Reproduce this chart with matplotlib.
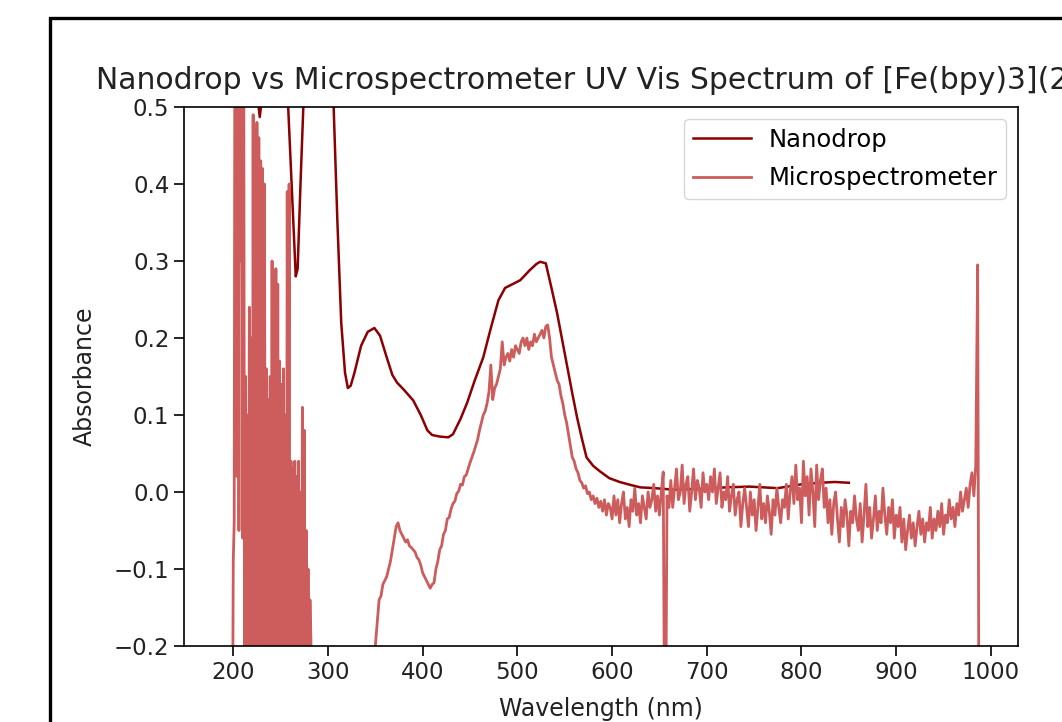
import numpy as np
import matplotlib
matplotlib.use("Agg")
import matplotlib.pyplot as plt
from matplotlib.patches import Rectangle

# Nanodrop spectrum (smooth, 190-850 nm)
nano_nm = [190, 200, 210, 220, 225, 228, 231, 240, 250, 256, 258, 262, 266, 268, 271, 274,
           280, 290, 300, 306, 310, 314, 318, 321, 324, 328, 335, 342, 349, 355, 362, 368,
           373, 380, 390, 398, 405, 410, 418, 427, 432, 440, 447, 455, 464, 472, 480, 487,
           495, 503, 513, 520, 524, 530, 536, 542, 552, 558, 563, 568, 573, 580, 587, 597,
           608, 620, 630, 645, 665, 690, 720, 745, 775, 800, 820, 835, 850]
nano_abs = [1.2, 1.5, 0.9, 0.6, 0.52, 0.487, 0.52, 0.8, 0.7, 0.53, 0.5, 0.39, 0.28, 0.29, 0.40, 0.5,
            0.8, 1.0, 0.7, 0.5, 0.35, 0.22, 0.155, 0.135, 0.138, 0.155, 0.19, 0.208, 0.213, 0.203, 0.175, 0.152,
            0.142, 0.133, 0.119, 0.1, 0.08, 0.074, 0.072, 0.071, 0.075, 0.095, 0.116, 0.145, 0.175, 0.213, 0.249, 0.265,
            0.270, 0.275, 0.288, 0.296, 0.299, 0.297, 0.265, 0.232, 0.167, 0.128, 0.097, 0.07, 0.045, 0.034, 0.027, 0.018,
            0.013, 0.009, 0.006, 0.005, 0.003, 0.004, 0.006, 0.007, 0.005, 0.01, 0.012, 0.013, 0.012]

# Microspectrometer spectrum, in pieces (start nm, step nm, values)
micro_uv = [-0.5, -0.6, -0.45, -0.7, -0.5, -0.4, -0.55, -0.6, -0.5, -0.45, -0.6, -0.4,
            -0.09, -0.04, 0.9, 0.6, 0.02, 0.85, -0.05, 0.95, 0.3, 0.8, -0.06, 0.7,
            -0.35, 0.15, -0.45, 0.1, -0.3, 0.24, -0.5, 0.2,
            -0.4, 0.49, -0.3, 0.47, -0.45, 0.48, -0.2, 0.46,
            -0.5, 0.43, -0.3, 0.42, -0.45, 0.4, -0.35,
            0.16, -0.4, 0.12, -0.5, 0.15,
            -0.3, 0.30, -0.45, 0.28, -0.35, 0.29, -0.5, 0.27,
            -0.4, 0.17, -0.3, 0.14, -0.5, 0.16, -0.35, 0.1,
            -0.45, 0.39, -0.3, 0.40, -0.5,
            0.04, -0.4, 0.03, -0.35, 0.04, -0.5, 0.02, -0.3, 0.04, -0.45, 0.0, -0.35,
            0.11, -0.3, 0.08, -0.4, -0.05, -0.3, -0.1, -0.25, -0.14, -0.19, -0.3]

micro_low = [-0.3, -0.35, -0.4, -0.42, -0.45, -0.47, -0.48, -0.5, -0.5, -0.49, -0.48,
             -0.47, -0.46, -0.45, -0.44, -0.42, -0.41, -0.4, -0.38, -0.37, -0.36, -0.34,
             -0.33, -0.32, -0.3, -0.29, -0.28, -0.27, -0.26, -0.25, -0.24, -0.22, -0.21]

micro_vis = [-0.2, -0.17, -0.14, -0.135, -0.12, -0.115,
             -0.11, -0.10, -0.09, -0.075, -0.06, -0.045, -0.04,
             -0.05, -0.055, -0.06, -0.065, -0.062, -0.07, -0.072, -0.075, -0.078, -0.085, -0.088,
             -0.095, -0.105, -0.11, -0.115, -0.12, -0.125, -0.12, -0.118,
             -0.1, -0.09, -0.075, -0.07, -0.055, -0.05, -0.035, -0.033, -0.022,
             -0.015, -0.012, -0.002, 0.001, 0.01, 0.009, 0.02, 0.022, 0.03, 0.038, 0.045, 0.052, 0.06, 0.068, 0.08,
             0.09, 0.1, 0.105, 0.115, 0.13, 0.165, 0.12, 0.135, 0.14, 0.15,
             0.16, 0.195, 0.165, 0.175, 0.18, 0.17, 0.185, 0.175, 0.19, 0.185,
             0.18, 0.195, 0.2, 0.19, 0.2, 0.185, 0.195, 0.19, 0.205, 0.195,
             0.2, 0.205, 0.21, 0.2, 0.215, 0.217, 0.2, 0.175,
             0.165, 0.155, 0.145, 0.14, 0.125, 0.115, 0.1, 0.09, 0.075, 0.06, 0.045, 0.04,
             0.03, 0.025, 0.015, 0.012, 0.005, 0.008, -0.002, 0.0, -0.01, -0.005,
             -0.015, -0.008, -0.02, -0.012, -0.025, -0.01, -0.03, -0.015, -0.02, -0.035]

micro_red = [-0.005, -0.03, -0.01, -0.04, -0.015, 0.0, -0.035, -0.02, -0.045, -0.01,
             -0.025, 0.005, -0.03, -0.015, -0.04, -0.005, -0.02, -0.035, 0.0, -0.02,
             -0.01, 0.01, -0.025, -0.005, -0.03, 0.0, 0.026, -0.45, -0.005, -0.02,
             0.015, -0.02, 0.005, 0.03, -0.01, 0.0, 0.035, -0.015, 0.01, 0.02,
             -0.025, 0.0, 0.03, -0.01, 0.015, 0.005, -0.02, 0.025, 0.0, 0.01,
             -0.01, 0.02, 0.0, 0.03, -0.015, 0.005, 0.025, -0.02, 0.0, -0.01,
             0.02, -0.025, -0.005, 0.01, -0.03, -0.01, 0.0, -0.045, -0.015, 0.005,
             -0.02, -0.045, 0.0, -0.03, -0.01, -0.05, -0.02, 0.01, -0.035, -0.015,
             -0.04, -0.005, -0.025, -0.055, -0.01, -0.03, 0.005, -0.02, -0.04, -0.01,
             -0.02, 0.01, -0.035, 0.0, 0.02, -0.015, 0.035, -0.01, 0.005, -0.04,
             0.04, -0.005, 0.02, -0.03, 0.03, 0.0, -0.045, 0.035, -0.01, 0.015,
             0.03, -0.02, 0.005, -0.04, -0.01, -0.055, -0.015, 0.0, -0.035, -0.065,
             -0.02, -0.045, -0.01, -0.03, -0.07, -0.025, -0.04, -0.005, -0.035, -0.05,
             -0.015, -0.065, -0.03, 0.01, -0.045, -0.02, -0.06, -0.035, -0.005, -0.05,
             -0.025, -0.04, 0.005, -0.03, -0.055, -0.02, -0.04, -0.01, -0.06, -0.03,
             -0.045, -0.02, -0.065, -0.035, -0.075, -0.05, -0.03, -0.06, -0.04, -0.07,
             -0.045, -0.025, -0.055, -0.035, -0.065, -0.04, -0.05, -0.02, -0.06, -0.035,
             -0.05, -0.025, -0.045, -0.015, -0.055, -0.03, -0.04, -0.01, -0.035, -0.02,
             -0.045, -0.015, -0.03, 0.0, -0.025, -0.01, 0.005, -0.02, 0.01, 0.025,
             -0.005, 0.035, 0.295, -0.6]

pieces = [(188, 1, micro_uv), (284, 2, micro_low), (350, 2, micro_vis), (602, 2, micro_red)]
micro_nm = np.concatenate([s + st * np.arange(len(v)) for s, st, v in pieces])
micro_abs = np.concatenate([v for s, st, v in pieces])

fig = plt.figure(figsize=(10.62, 7.22), dpi=100)
ax = fig.add_axes([184 / 1062, 76 / 722, 834 / 1062, 539 / 722])

ax.plot(nano_nm, nano_abs, color="darkred", lw=1.8, label="Nanodrop")
ax.plot(micro_nm, micro_abs, color="indianred", lw=2.0, label="Microspectrometer")

ax.set_xlim(148, 1028.6)
ax.set_ylim(-0.2, 0.5)
ax.set_xticks([200, 300, 400, 500, 600, 700, 800, 900, 1000])
ax.set_yticks([-0.2, -0.1, 0.0, 0.1, 0.2, 0.3, 0.4, 0.5])
ax.tick_params(labelsize=16.5, length=7, width=1.2, labelcolor="#222222")
for s in ax.spines.values():
    s.set_linewidth(1.2)

ax.set_title("Nanodrop vs Microspectrometer UV Vis Spectrum of [Fe(bpy)3](2+)",
             fontsize=21.5, pad=13, color="#222222")
ax.set_xlabel("Wavelength (nm)", fontsize=17, labelpad=10, color="#222222")
ax.set_ylabel("Absorbance", fontsize=17, labelpad=12, color="#222222")
ax.legend(loc="upper right", fontsize=17.5, handlelength=2.4, labelspacing=0.6,
          borderpad=0.35, handletextpad=0.7)

# frame of the screenshot
fig.add_artist(Rectangle((49.5 / 1062, -0.2), 1.5, 1.2 - 17.5 / 722,
                         transform=fig.transFigure, fill=False,
                         edgecolor="black", lw=2.4))

fig.savefig("out.png", dpi=100)
